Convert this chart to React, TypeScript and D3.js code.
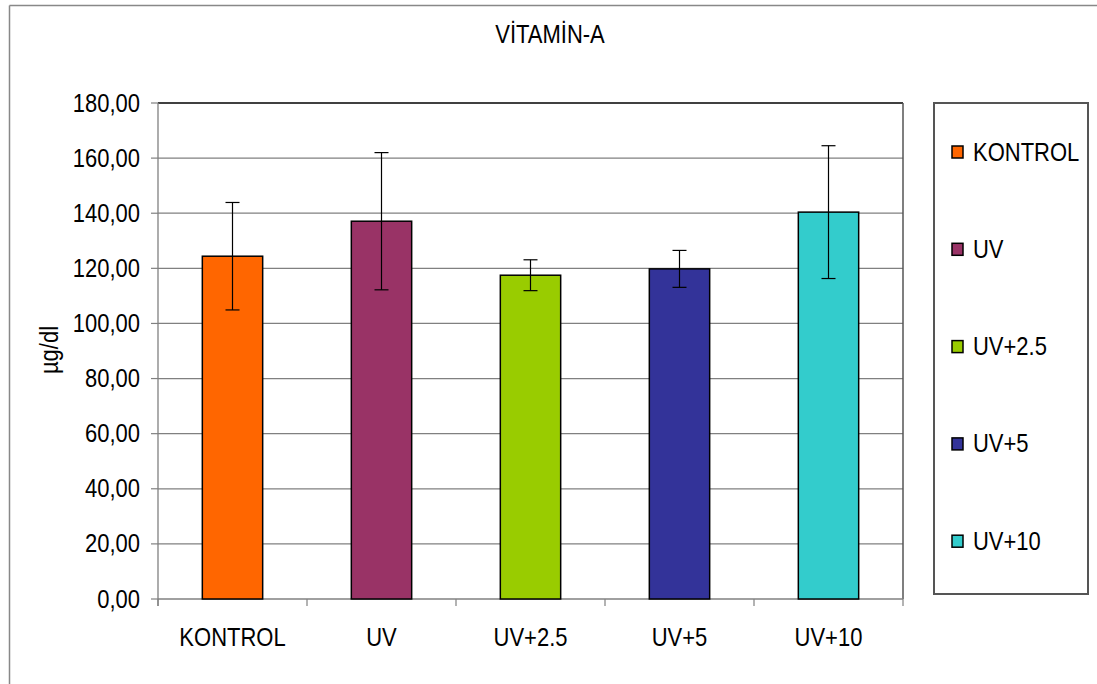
import React from "react";
import * as d3 from "d3";

const categories = ["KONTROL", "UV", "UV+2.5", "UV+5", "UV+10"];
const means = [124.4, 137.1, 117.5, 119.8, 140.4];
const errors = [19.5, 24.9, 5.6, 6.7, 24.1];
const colors = ["#FF6600", "#993366", "#99CC00", "#333399", "#33CCCC"];
const yTicks = [0, 20, 40, 60, 80, 100, 120, 140, 160, 180];
const title = "VİTAMİN-A";
const yLabel = "µg/dl";

const W = 1097;
const H = 684;
const plot = { left: 158, right: 903, top: 103, bottom: 599 };
const FONT = "'Liberation Sans', Arial, sans-serif";
const SY = 1.15;

function T({ x, y, anchor = "start", baseline = "auto", rotate = 0, children }: any) {
  return (
    <text
      transform={`translate(${x},${y}) rotate(${rotate}) scale(1,${SY})`}
      textAnchor={anchor}
      dominantBaseline={baseline}
      fontFamily={FONT}
      fontSize={22}
      fill="#000"
    >
      {children}
    </text>
  );
}

export default function App() {
  const x = d3.scaleBand<string>().domain(categories).range([plot.left, plot.right]).paddingInner(0).paddingOuter(0);
  const y = d3.scaleLinear().domain([0, 180]).range([plot.bottom, plot.top]);
  const bw = x.bandwidth() * 0.405;
  const fmt = (v: number) => d3.format(".2f")(v).replace(".", ",");
  const boundaries = d3.range(categories.length + 1).map((i) => plot.left + i * x.bandwidth());

  return (
    <svg width={W} height={H} style={{ position: "absolute", left: 0, top: 0, background: "#fff" }}>
      <rect x={0} y={0} width={W} height={H} fill="#fff" />
      {/* outer frame */}
      <line x1={9.5} y1={5.5} x2={W} y2={5.5} stroke="#888" strokeWidth={1.5} />
      <line x1={9.5} y1={5.5} x2={9.5} y2={H} stroke="#888" strokeWidth={1.5} />

      <T x={550} y={43} anchor="middle">{title}</T>

      {/* gridlines */}
      {yTicks.slice(1, -1).map((t) => (
        <line key={t} x1={plot.left} x2={plot.right} y1={y(t)} y2={y(t)} stroke="#808080" strokeWidth={1.2} />
      ))}
      {/* plot frame top / right */}
      <line x1={plot.left} x2={plot.right} y1={plot.top} y2={plot.top} stroke="#000" strokeWidth={1.3} />
      <line x1={plot.right} x2={plot.right} y1={plot.top} y2={plot.bottom} stroke="#555" strokeWidth={1.5} />

      {/* axes */}
      <line x1={plot.left} x2={plot.left} y1={plot.top} y2={plot.bottom + 7} stroke="#808080" strokeWidth={1.3} />
      <line x1={plot.left} x2={plot.right} y1={plot.bottom} y2={plot.bottom} stroke="#808080" strokeWidth={1.3} />
      {yTicks.map((t) => (
        <g key={t}>
          <line x1={plot.left - 7} x2={plot.left} y1={y(t)} y2={y(t)} stroke="#808080" strokeWidth={1.2} />
          <T x={140} y={y(t)} anchor="end" baseline="central">{fmt(t)}</T>
        </g>
      ))}
      {boundaries.map((b, i) => (
        <line key={i} x1={b} x2={b} y1={plot.bottom} y2={plot.bottom + 7} stroke="#808080" strokeWidth={1.2} />
      ))}
      {categories.map((c) => (
        <T key={c} x={(x(c) as number) + x.bandwidth() / 2} y={646} anchor="middle">{c}</T>
      ))}

      {/* bars */}
      {categories.map((c, i) => {
        const cx = (x(c) as number) + x.bandwidth() / 2;
        return (
          <rect
            key={c}
            x={cx - bw / 2}
            y={y(means[i])}
            width={bw}
            height={plot.bottom - y(means[i])}
            fill={colors[i]}
            stroke="#000"
            strokeWidth={1.5}
          />
        );
      })}
      {/* error bars */}
      {categories.map((c, i) => {
        const cx = (x(c) as number) + x.bandwidth() / 2;
        const hi = y(means[i] + errors[i]);
        const lo = y(means[i] - errors[i]);
        return (
          <g key={c} stroke="#000" strokeWidth={1.2}>
            <line x1={cx} x2={cx} y1={hi} y2={lo} />
            <line x1={cx - 7} x2={cx + 7} y1={hi} y2={hi} />
            <line x1={cx - 7} x2={cx + 7} y1={lo} y2={lo} />
          </g>
        );
      })}

      <T x={49} y={350} anchor="middle" baseline="central" rotate={-90}>{yLabel}</T>

      {/* legend */}
      <rect x={934} y={103} width={154} height={491} fill="#fff" stroke="#555" strokeWidth={2} />
      {categories.map((c, i) => {
        const ly = 152 + i * 97.3;
        return (
          <g key={c}>
            <rect x={952} y={ly - 6} width={11} height={12} fill={colors[i]} stroke="#000" strokeWidth={1.5} />
            <T x={973} y={ly} baseline="central">{c}</T>
          </g>
        );
      })}
    </svg>
  );
}
